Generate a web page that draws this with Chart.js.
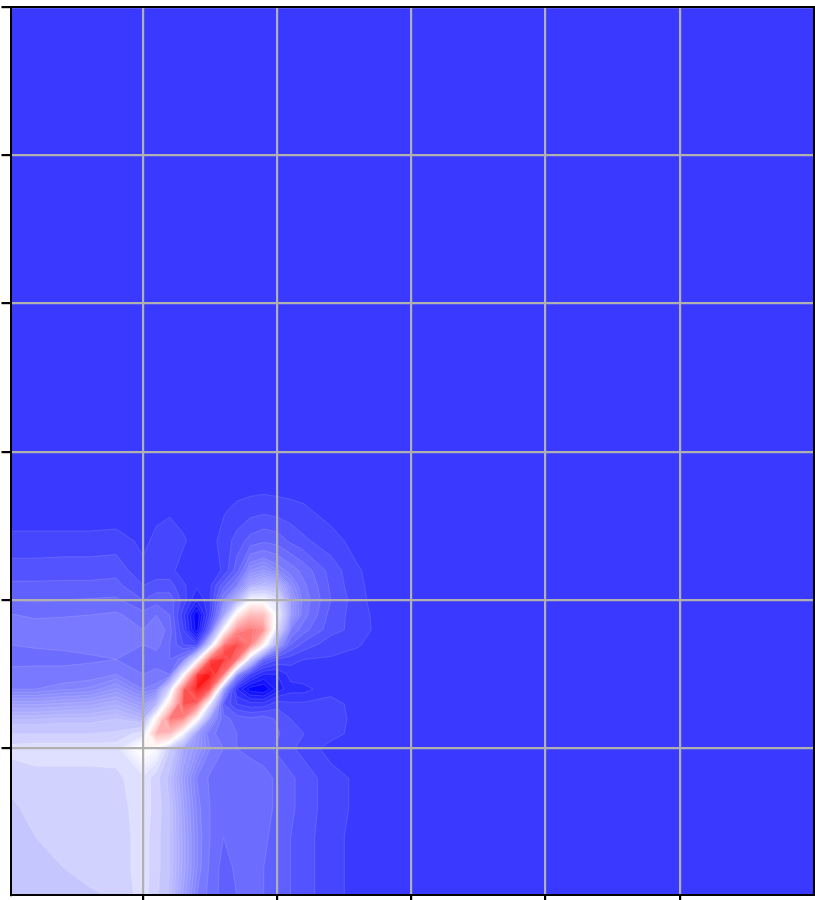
<!DOCTYPE html>
<html>
<head>
<meta charset="utf-8">
<style>
  html, body { margin: 0; padding: 0; background: #fff; }
  canvas { display: block; }
</style>
<script src="https://cdn.jsdelivr.net/npm/chart.js@4/dist/chart.umd.min.js"></script>
</head>
<body>
<canvas id="chart" width="815" height="900"></canvas>
<script>
const xTicks = [1, 2, 3, 4, 5];
const yTicks = [1, 2, 3, 4, 5, 6];
const xGrid = [0, 0.2, 0.4, 0.6, 0.8, 1, 1.1, 1.2, 1.3, 1.4, 1.5, 1.6, 1.7, 1.8, 1.9, 2, 2.1, 2.2, 2.4, 2.6, 2.8, 3, 6];
const yGrid = [0, 0.2, 0.4, 0.6, 0.8, 1, 1.1, 1.2, 1.3, 1.4, 1.5, 1.6, 1.7, 1.8, 1.9, 2, 2.1, 2.2, 2.4, 2.6, 2.8, 3, 6];
// [from, to, step] of the contour bands
const levelRanges = [[-1, -0.5, 0.05], [-0.5, -0.25, 0.025], [-0.25, -0.1, 0.05], [-0.1, 1, 0.025]];

// one row per yGrid value (-1 blue, 0 white, 1 red)
const zGrid = [
  [-.22, -.22, -.22, -.21, -.195, -.125, -.19, -.26, -.38, -.50, -.57, -.62, -.60, -.575, -.60, -.62, -.65, -.68, -.73, -.77, -.78, -.78, -.78],
  [-.22, -.21, -.20, -.18, -.18, -.125, -.18, -.25, -.36, -.47, -.56, -.62, -.59, -.57, -.60, -.62, -.65, -.68, -.73, -.77, -.78, -.78, -.78],
  [-.22, -.20, -.18, -.175, -.18, -.125, -.18, -.25, -.36, -.47, -.55, -.60, -.58, -.56, -.59, -.62, -.65, -.68, -.73, -.77, -.78, -.78, -.78],
  [-.21, -.185, -.175, -.17, -.175, -.12, -.17, -.25, -.37, -.48, -.55, -.59, -.57, -.555, -.58, -.61, -.64, -.67, -.73, -.76, -.78, -.78, -.78],
  [-.19, -.17, -.17, -.17, -.165, -.11, -.18, -.27, -.39, -.50, -.56, -.585, -.57, -.56, -.58, -.61, -.64, -.67, -.73, -.76, -.78, -.78, -.78],
  [-.13, -.12, -.12, -.12, -.12, .03, -.02, -.20, -.35, -.42, -.50, -.55, -.60, -.62, -.63, -.66, -.69, -.72, -.77, -.78, -.78, -.78, -.78],
  [-.20, -.20, -.20, -.20, -.19, -.12, .30, .28, -.05, -.40, -.53, -.58, -.60, -.60, -.60, -.64, -.69, -.70, -.73, -.77, -.78, -.78, -.78],
  [-.28, -.28, -.27, -.27, -.25, -.30, .05, .55, .50, .02, -.42, -.58, -.62, -.64, -.62, -.66, -.70, -.72, -.72, -.77, -.78, -.78, -.78],
  [-.38, -.38, -.37, -.36, -.33, -.40, -.30, .15, .70, .65, -.10, -.65, -.75, -.78, -.78, -.72, -.74, -.74, -.74, -.76, -.78, -.78, -.78],
  [-.50, -.50, -.48, -.47, -.42, -.50, -.48, -.15, .62, .92, .72, -.40, -.85, -.98, -1, -.88, -.82, -.82, -.76, -.78, -.78, -.78, -.78],
  [-.53, -.53, -.53, -.52, -.50, -.55, -.53, -.55, -.05, .75, .95, .62, -.45, -.75, -.85, -.85, -.78, -.76, -.77, -.78, -.78, -.78, -.78],
  [-.57, -.565, -.565, -.56, -.55, -.57, -.58, -.60, -.52, -.10, .70, .82, .60, -.20, -.62, -.70, -.73, -.75, -.755, -.77, -.78, -.78, -.78],
  [-.55, -.545, -.54, -.53, -.52, -.55, -.53, -.60, -.70, -.75, -.20, .55, .72, .55, .05, -.40, -.60, -.67, -.73, -.745, -.78, -.78, -.78],
  [-.525, -.52, -.52, -.52, -.51, -.55, -.50, -.58, -.75, -.98, -.62, -.03, .47, .55, .45, -.15, -.50, -.58, -.68, -.72, -.78, -.78, -.78],
  [-.545, -.56, -.555, -.55, -.54, -.58, -.55, -.60, -.78, -1, -.74, -.40, .07, .30, .27, -.05, -.40, -.53, -.67, -.725, -.78, -.78, -.78],
  [-.60, -.605, -.60, -.595, -.59, -.65, -.62, -.62, -.72, -.85, -.76, -.50, -.30, -.03, -.03, -.12, -.40, -.52, -.65, -.73, -.79, -.78, -.78],
  [-.64, -.64, -.64, -.64, -.635, -.70, -.68, -.68, -.74, -.79, -.76, -.62, -.50, -.33, -.28, -.30, -.45, -.54, -.66, -.74, -.78, -.78, -.78],
  [-.675, -.675, -.67, -.67, -.665, -.74, -.73, -.73, -.78, -.79, -.79, -.74, -.62, -.45, -.42, -.47, -.52, -.57, -.67, -.745, -.78, -.78, -.78],
  [-.735, -.735, -.735, -.735, -.73, -.76, -.74, -.73, -.74, -.78, -.77, -.73, -.68, -.63, -.61, -.62, -.66, -.69, -.73, -.77, -.78, -.78, -.78],
  [-.78, -.78, -.78, -.78, -.78, -.78, -.76, -.755, -.78, -.78, -.78, -.755, -.735, -.72, -.71, -.72, -.73, -.74, -.77, -.78, -.78, -.78, -.78],
  [-.78, -.78, -.78, -.78, -.78, -.78, -.78, -.78, -.78, -.78, -.78, -.78, -.78, -.78, -.78, -.78, -.78, -.78, -.78, -.78, -.78, -.78, -.78],
  [-.78, -.78, -.78, -.78, -.78, -.78, -.78, -.78, -.78, -.78, -.78, -.78, -.78, -.78, -.78, -.78, -.78, -.78, -.78, -.78, -.78, -.78, -.78],
  [-.78, -.78, -.78, -.78, -.78, -.78, -.78, -.78, -.78, -.78, -.78, -.78, -.78, -.78, -.78, -.78, -.78, -.78, -.78, -.78, -.78, -.78, -.78],
];

const levels = [];
levelRanges.forEach(([from, to, step]) => {
  for (let v = from; v < to - 1e-6; v += step) levels.push(v);
});
levels.push(1);

// blue-white-red, same as matplotlib's bwr
function bwr(v) {
  const c = Math.round(255 * (1 - Math.abs(v)));
  return v < 0 ? `rgb(${c},${c},255)` : `rgb(255,${c},${c})`;
}

// part of one grid cell where z >= level, as a polygon
function clipCell(corners, level) {
  const poly = [];
  const cross = [];
  for (let i = 0; i < 4; i++) {
    const a = corners[i];
    const b = corners[(i + 1) % 4];
    if (a.z >= level) poly.push(a);
    if ((a.z >= level) !== (b.z >= level)) {
      const t = (level - a.z) / (b.z - a.z);
      const p = { x: a.x + (b.x - a.x) * t, y: a.y + (b.y - a.y) * t };
      poly.push(p);
      cross.push(p);
    }
  }
  return { poly, cross };
}

const contourPlugin = {
  id: "contourf",
  beforeDatasetsDraw(chart) {
    const { ctx, chartArea, scales } = chart;
    const px = xGrid.map((v) => scales.x.getPixelForValue(v));
    const py = yGrid.map((v) => scales.y.getPixelForValue(v));

    ctx.save();
    ctx.beginPath();
    ctx.rect(chartArea.left, chartArea.top, chartArea.width, chartArea.height);
    ctx.clip();

    ctx.fillStyle = bwr((levels[0] + levels[1]) / 2);
    ctx.fillRect(chartArea.left, chartArea.top, chartArea.width, chartArea.height);

    for (let k = 1; k < levels.length - 1; k++) {
      const level = levels[k];
      const lines = [];
      ctx.beginPath();
      for (let j = 0; j < yGrid.length - 1; j++) {
        for (let i = 0; i < xGrid.length - 1; i++) {
          const corners = [
            { x: px[i], y: py[j], z: zGrid[j][i] },
            { x: px[i + 1], y: py[j], z: zGrid[j][i + 1] },
            { x: px[i + 1], y: py[j + 1], z: zGrid[j + 1][i + 1] },
            { x: px[i], y: py[j + 1], z: zGrid[j + 1][i] },
          ];
          const { poly, cross } = clipCell(corners, level);
          if (poly.length < 3) continue;
          ctx.moveTo(poly[0].x, poly[0].y);
          poly.slice(1).forEach((p) => ctx.lineTo(p.x, p.y));
          ctx.closePath();
          if (cross.length >= 2) lines.push(cross);
        }
      }
      ctx.fillStyle = bwr((level + levels[k + 1]) / 2);
      ctx.fill();

      ctx.beginPath();
      lines.forEach((c) => {
        ctx.moveTo(c[0].x, c[0].y);
        ctx.lineTo(c[1].x, c[1].y);
      });
      ctx.strokeStyle = "rgba(255,255,255,0.2)";
      ctx.lineWidth = 0.7;
      ctx.stroke();
    }
    ctx.restore();
  },
  afterDraw(chart) {
    const { ctx, chartArea } = chart;
    ctx.save();
    ctx.strokeStyle = "#000";
    ctx.lineWidth = 2;
    ctx.beginPath();
    ctx.moveTo(chartArea.left, chartArea.top);
    ctx.lineTo(chartArea.right, chartArea.top);
    ctx.lineTo(chartArea.right, chartArea.bottom);
    ctx.stroke();
    ctx.restore();
  },
};

const gridPoints = [];
yGrid.forEach((y, j) => xGrid.forEach((x, i) => gridPoints.push({ x, y, z: zGrid[j][i] })));

function axis(min, max, tickValues) {
  return {
    type: "linear",
    min,
    max,
    afterBuildTicks: (scale) => {
      scale.ticks = tickValues.map((value) => ({ value }));
    },
    ticks: { display: false },
    grid: { color: "#b0b0b0", lineWidth: 2.2, z: 1, tickColor: "#000", tickWidth: 2.2, tickLength: 9 },
    border: { display: true, color: "#000", width: 2, z: 2 },
  };
}

const xAxis = axis(0.0127, 6, xTicks);
xAxis.afterFit = (scale) => { scale.height = 5; };
const yAxis = axis(0.012, 6, yTicks);

new Chart(document.getElementById("chart"), {
  type: "scatter",
  data: { datasets: [{ data: gridPoints, pointRadius: 0 }] },
  options: {
    responsive: false,
    animation: false,
    devicePixelRatio: 1,
    layout: { padding: { left: 1.5, right: 1, top: 7, bottom: 0 } },
    plugins: { legend: { display: false }, tooltip: { enabled: false } },
    scales: { x: xAxis, y: yAxis },
  },
  plugins: [contourPlugin],
});
</script>
</body>
</html>
